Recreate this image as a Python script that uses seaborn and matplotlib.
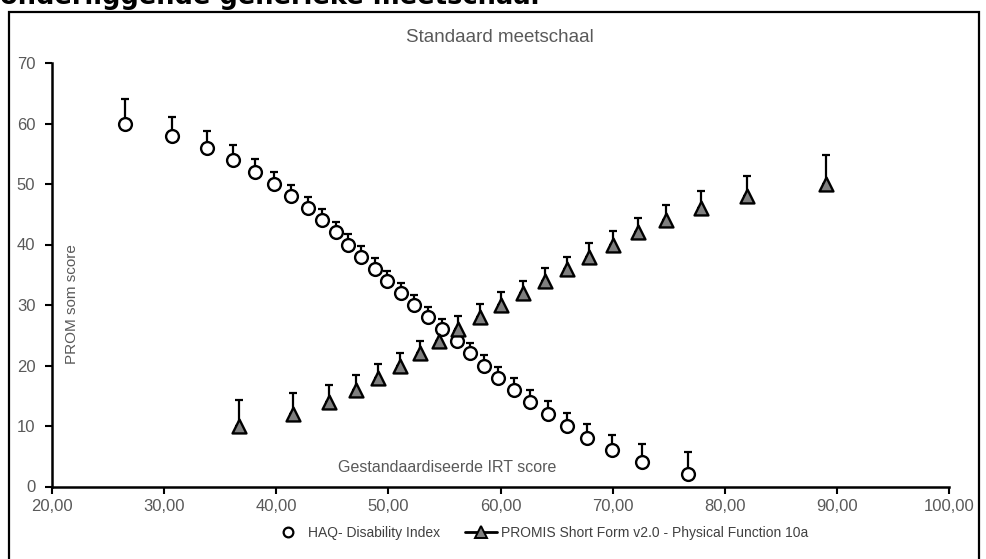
import numpy as np
import matplotlib
matplotlib.use("Agg")
import matplotlib.pyplot as plt
import seaborn as sns
from matplotlib.lines import Line2D
from matplotlib.patches import Rectangle

# ---- data ----
haq_x = [26.5, 30.7, 33.8, 36.1, 38.1, 39.8, 41.3, 42.8, 44.1, 45.3, 46.4, 47.6, 48.8, 49.9, 51.1,
         52.3, 53.5, 54.8, 56.1, 57.3, 58.5, 59.8, 61.2, 62.6, 64.2, 65.9, 67.7, 69.9, 72.6, 76.7]
haq_y = [60, 58, 56, 54, 52, 50, 48, 46, 44, 42, 40, 38, 36, 34, 32,
         30, 28, 26, 24, 22, 20, 18, 16, 14, 12, 10, 8, 6, 4, 2]
haq_err = [4.0, 3.0, 2.7, 2.4, 2.2, 2.0, 1.9, 1.8, 1.8, 1.7, 1.7, 1.7, 1.7, 1.7, 1.7,
           1.7, 1.7, 1.7, 1.7, 1.7, 1.8, 1.8, 1.9, 1.9, 2.1, 2.2, 2.3, 2.5, 3.0, 3.7]

promis_x = [36.7, 41.5, 44.7, 47.1, 49.1, 51.0, 52.8, 54.5, 56.2, 58.2, 60.0,
            62.0, 64.0, 65.9, 67.9, 70.0, 72.3, 74.8, 77.9, 82.0, 89.0]
promis_y = [10, 12, 14, 16, 18, 20, 22, 24, 26, 28, 30,
            32, 34, 36, 38, 40, 42, 44, 46, 48, 50]
promis_err = [4.3, 3.4, 2.8, 2.5, 2.2, 2.1, 2.0, 2.0, 2.1, 2.1, 2.1,
              2.0, 2.1, 2.0, 2.2, 2.2, 2.4, 2.6, 2.9, 3.4, 4.8]

x_ticks = [20, 30, 40, 50, 60, 70, 80, 90, 100]
x_tick_labels = ["20,00", "30,00", "40,00", "50,00", "60,00", "70,00", "80,00", "90,00", "100,00"]
y_ticks = [0, 10, 20, 30, 40, 50, 60, 70]
y_tick_labels = ["0", "10", "20", "30", "40", "50", "60", "70"]

series_labels = ["HAQ- Disability Index", "PROMIS Short Form v2.0 - Physical Function 10a"]

# ---- style ----
sns.set_theme(style="ticks")
plt.rcParams["font.family"] = ["Liberation Sans", "DejaVu Sans"]

W, H = 987, 559
fig = plt.figure(figsize=(W / 100, H / 100), dpi=100)
ax = fig.add_axes([52 / W, 1 - 486.5 / H, 897 / W, 423.5 / H])

gray_text = "#595959"

# error bars (upper only)
ax.errorbar(haq_x, haq_y, yerr=[np.zeros(len(haq_err)), haq_err], fmt="none",
            ecolor="black", elinewidth=1.6, capsize=3, capthick=1.6, zorder=2)
ax.errorbar(promis_x, promis_y, yerr=[np.zeros(len(promis_err)), promis_err], fmt="none",
            ecolor="black", elinewidth=1.6, capsize=3, capthick=1.6, zorder=2)

sns.scatterplot(x=haq_x, y=haq_y, marker="o", s=85, color="white",
                edgecolor="black", linewidth=1.7, ax=ax, zorder=3)
sns.scatterplot(x=promis_x, y=promis_y, marker="^", s=100, color="#7f7f7f",
                edgecolor="black", linewidth=1.7, ax=ax, zorder=3)

ax.set_xlim(20, 100)
ax.set_ylim(0, 70)
ax.set_xticks(x_ticks)
ax.set_xticklabels(x_tick_labels)
ax.set_yticks(y_ticks)
ax.set_yticklabels(y_tick_labels)
ax.tick_params(axis="both", direction="out", length=5, width=1.5, colors="black",
               labelcolor=gray_text, labelsize=12, bottom=True, left=True)
ax.tick_params(axis="x", pad=4)
ax.tick_params(axis="y", pad=7)
for s in ["top", "right"]:
    ax.spines[s].set_visible(False)
for s in ["left", "bottom"]:
    ax.spines[s].set_linewidth(1.8)
    ax.spines[s].set_color("black")
ax.set_xlabel("")
ax.set_ylabel("")

# texts
fig.text(500 / W, 1 - 37 / H, "Standaard meetschaal", ha="center", va="center",
         fontsize=13.5, color=gray_text)
fig.text(447 / W, 1 - 467 / H, "Gestandaardiseerde IRT score", ha="center", va="center",
         fontsize=11.5, color=gray_text)
fig.text(72 / W, 1 - 304 / H, "PROM som score", ha="center", va="center",
         rotation=90, fontsize=11, color=gray_text)
fig.text(0.0, 1 - 4 / H, "onderliggende generieke meetschaal", ha="left", va="baseline",
         fontsize=18.5, fontweight="bold", family=["DejaVu Sans"], color="black")

# frame
fig.add_artist(Rectangle((9 / W, -0.05), (979 - 9) / W, 1.05 - 12 / H,
                         transform=fig.transFigure, fill=False, lw=1.6, ec="black"))

# legend
handles = [
    Line2D([], [], marker="o", linestyle="none", markerfacecolor="white",
           markeredgecolor="black", markeredgewidth=1.6, markersize=7),
    Line2D([], [], marker="^", linestyle="-", color="black", lw=2, markerfacecolor="#7f7f7f",
           markeredgecolor="black", markeredgewidth=1.4, markersize=8),
]
fig.legend(handles, series_labels, loc="center", bbox_to_anchor=(540 / W, 1 - 533 / H),
           ncol=2, frameon=False, fontsize=10, handlelength=2.3, handletextpad=0.3,
           columnspacing=1.8, labelcolor="#404040")

fig.savefig("out.png", dpi=100)
